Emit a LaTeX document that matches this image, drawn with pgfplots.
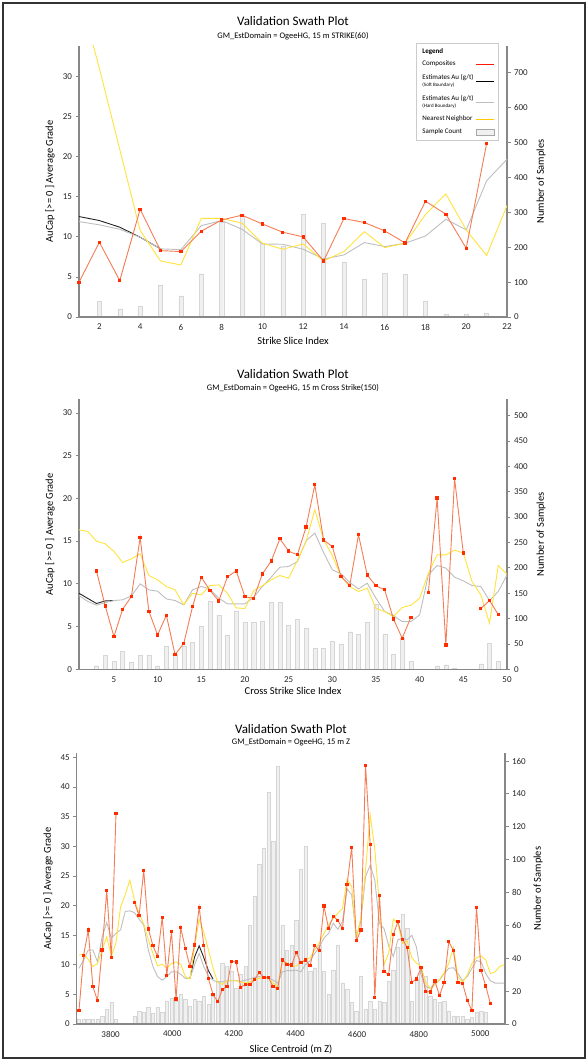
\documentclass[border=0pt]{standalone}
\usepackage{pgfplots}
\usepackage{pgfplotstable}
\pgfplotsset{compat=1.18}
\usepackage{fontspec}
\setmainfont{Carlito}

\definecolor{comp}{RGB}{244,124,86}
\definecolor{compmark}{RGB}{255,45,0}
\definecolor{soft}{RGB}{35,35,35}
\definecolor{hard}{RGB}{190,190,190}
\definecolor{nn}{RGB}{255,226,60}
\definecolor{nnleg}{RGB}{255,200,0}
\definecolor{barfill}{RGB}{240,240,240}
\definecolor{bardraw}{RGB}{214,214,214}
\definecolor{axcol}{RGB}{135,135,135}

\pgfplotstableread{
x comp soft hard nn cnt
1 4.33 12.53 11.9 40.5 nan
2 9.32 12.03 11.49 31.0 44
3 4.54 11.2 10.94 20.9 23
4 13.44 9.95 9.95 10.8 30
5 8.28 8.5 8.5 6.99 90
6 8.16 nan 8.4 6.49 61
7 10.7 nan 11.4 12.3 124
8 12.1 nan 12.03 12.3 272
9 12.7 nan 10.94 11.7 290
10 11.6 nan 9.11 9.2 212
11 10.57 nan 9.07 8.45 202
12 9.99 nan 8.45 9.11 294
13 6.99 nan 7.24 6.99 270
14 12.28 nan 7.74 8.16 158
15 11.78 nan 9.28 10.65 109
16 10.74 nan 8.78 8.66 126
17 9.24 nan 9.2 9.2 122
18 14.44 nan 10.1 12.78 45
19 12.82 nan 12.19 15.36 8
20 8.57 nan 10.86 10.86 8
21 21.64 nan 16.98 7.66 10
22 nan nan 19.68 13.9 nan
}\tblA

\pgfplotstableread{
x comp soft hard nn cnt
1 nan 8.9 8.63 16.33 nan
2 nan 8.3 7.95 16.13 nan
3 11.52 7.7 7.5 15.0 7
4 7.42 8.0 7.8 14.69 28
5 3.83 8.05 8.05 13.79 16
6 7.03 nan 8.13 12.5 35
7 8.52 nan 8.59 12.93 14
8 15.43 nan 10.0 13.52 28
9 6.8 nan 9.3 10.98 28
10 4.02 nan 9.14 10.47 7
11 6.33 nan 8.24 9.69 45
12 1.72 nan 8.05 9.3 30
13 3.05 nan 7.54 7.54 46
14 7.34 nan 9.3 8.9 53
15 10.78 nan 9.69 8.71 84
16 9.22 nan 9.38 9.8 135
17 8.0 nan 8.32 9.88 107
18 10.82 nan 7.66 8.9 68
19 11.52 nan 7.66 7.19 115
20 8.48 nan 7.66 7.11 93
21 8.32 nan 8.44 9.22 92
22 11.17 nan 9.69 9.77 95
23 12.66 nan 10.78 10.47 133
24 15.27 nan 11.95 10.98 133
25 13.83 nan 12.03 10.66 87
26 13.4 nan 12.6 12.73 99
27 16.64 nan 15.04 14.96 81
28 21.6 nan 15.94 18.67 41
29 15.12 nan 13.67 15.16 41
30 14.38 nan 11.64 13.32 55
31 10.86 nan 11.17 10.86 50
32 9.84 nan 10.16 9.69 74
33 15.74 nan 9.41 9.1 70
34 11.02 nan 10.08 9.49 93
35 9.77 nan 8.32 7.11 128
36 9.3 nan 6.76 6.76 70
37 5.9 nan 6.29 6.17 30
38 3.63 nan 5.59 7.23 61
39 6.09 nan 5.59 7.5 16
40 nan nan 6.37 8.32 nan
41 9.02 nan 11.05 11.25 nan
42 20.04 nan 12.15 13.4 7
43 2.85 nan 11.84 13.4 9
44 22.3 nan 10.78 13.95 3
45 13.6 nan 10.35 13.6 nan
46 nan nan 9.8 10.27 nan
47 7.11 nan 9.69 8.71 11
48 8.05 nan 8.05 5.39 51
49 6.41 nan 9.1 12.15 15
50 nan nan 11.05 11.13 nan
}\tblB

\pgfplotstableread{
x comp soft hard nn cnt
3697.5 2.3 nan 9.4 11.6 3
3712.5 11.6 nan 10.8 11.8 3
3727.5 15.86 nan 12.5 10.9 3
3742.5 6.3 nan 12.5 9.7 3
3757.5 3.97 nan 10.5 10.2 3
3772.5 12.5 nan 14.7 12.5 5
3787.5 22.5 nan 17.1 14.7 9
3802.5 11.2 nan 14.5 11.4 13
3817.5 35.5 nan 15.3 13.7 3
3832.5 nan nan 15.9 19.8 nan
3847.5 nan nan 19.0 21.8 nan
3862.5 nan nan 19.1 24.3 nan
3877.5 20.5 nan 18.8 20.9 4.5
3892.5 18.28 nan 17.7 18.7 8
3907.5 25.95 nan 16.7 16.9 7
3922.5 16.05 nan 12.5 14.2 10
3937.5 13.2 nan 9.7 11.9 6.5
3952.5 11.4 nan 8.0 9.8 10
3967.5 18.0 nan 7.4 10.1 7
3982.5 8.2 nan 8.0 9.4 14
3997.5 15.62 nan 8.8 10.2 16
4012.5 4.2 nan 8.8 10.5 14
4027.5 16.25 nan 8.4 10.1 18
4042.5 12.8 nan 7.7 8.0 15
4057.5 9.73 7.7 7.7 7.6 11
4072.5 13.36 11.3 10.0 13.0 15
4087.5 19.72 13.2 11.9 17.7 14
4102.5 13.3 11.2 9.7 15.5 17
4117.5 7.65 9.0 8.0 12.5 12
4132.5 5.0 7.6 7.4 9.5 17
4147.5 3.77 nan 7.1 7.0 26
4162.5 5.8 nan 7.1 6.7 37
4177.5 6.3 nan 7.3 7.3 35
4192.5 10.6 nan 7.3 7.3 32
4207.5 10.45 nan 7.3 7.3 22
4222.5 6.2 nan 7.2 7.1 30
4237.5 6.7 nan 7.4 6.9 35
4252.5 6.7 nan 7.6 7.1 60
4267.5 7.5 nan 7.9 7.5 78
4282.5 8.7 nan 8.0 7.7 97
4297.5 7.8 nan 7.8 8.0 107
4312.5 7.8 nan 7.8 7.7 141
4327.5 6.3 nan 7.4 6.9 111
4342.5 6.0 nan 6.9 6.3 157
4357.5 10.8 nan 8.8 10.7 60
4372.5 10.1 nan 9.0 10.3 45
4387.5 9.96 nan 9.0 9.7 48
4402.5 12.1 nan 9.1 9.8 63
4417.5 10.35 nan 8.8 10.5 94
4432.5 10.8 nan 10.0 10.8 108
4447.5 9.84 nan 10.7 11.2 32
4462.5 13.3 nan 11.9 12.5 34
4477.5 12.37 nan 13.0 13.7 48
4492.5 19.9 nan 14.5 15.3 32
4507.5 16.1 nan 15.3 16.7 18
4522.5 18.2 nan 17.0 17.8 33
4537.5 17.5 nan 16.0 18.7 48
4552.5 16.1 nan 17.3 19.5 25
4567.5 23.6 nan 22.8 24.4 21
4582.5 29.8 nan 21.8 23.2 13
4597.5 14.06 nan 14.7 14.5 8
4612.5 15.86 nan 17.5 18.0 29
4627.5 43.6 nan 24.9 26.0 9
4642.5 30.3 nan 26.8 35.3 14
4657.5 4.44 nan 24.3 29.5 9
4672.5 21.7 nan 17.0 20.0 14
4687.5 8.83 nan 16.1 10.0 13
4702.5 8.38 nan 13.2 12.0 26
4717.5 15.1 nan 11.4 17.7 33
4732.5 17.27 nan 14.2 17.0 47
4747.5 14.3 nan 14.5 13.6 67
4762.5 12.88 nan 14.2 14.0 58
4777.5 7.03 nan 15.0 11.2 14
4792.5 7.59 nan 13.0 10.3 27
4807.5 9.5 nan 8.3 9.7 31
4822.5 5.51 nan 6.3 7.0 29
4837.5 5.4 nan 6.0 6.0 17
4852.5 7.26 nan 6.9 6.6 15
4867.5 4.78 nan 7.4 7.5 13
4882.5 7.03 nan 8.5 8.7 14
4897.5 13.9 nan 9.4 10.2 8
4912.5 12.43 nan 9.5 12.9 5
4927.5 7.03 nan 8.5 8.0 4.5
4942.5 6.86 nan 7.3 7.0 5
4957.5 3.99 nan 8.0 8.3 3
4972.5 2.25 nan 9.4 10.2 4
4987.5 19.7 nan 10.7 11.2 7
5002.5 9.0 nan 10.5 11.5 8
5017.5 6.41 nan 8.5 10.8 7
5032.5 3.49 nan 7.3 8.5 nan
5047.5 nan nan 6.9 8.8 nan
5062.5 nan nan 6.9 9.7 nan
5077.5 nan nan 6.9 10.0 nan
}\tblC

\pgfplotsset{
  base/.style={
    scale only axis, anchor=south west,
    /pgf/number format/assume math mode=true,
    /pgf/number format/1000 sep={},
    tick label style={font=\fontsize{9}{10}\selectfont, text=black!85},
    axis line style={-, axcol, line width=1.3pt},
    tick style={axcol, line width=0.8pt},
    tick align=outside,
    major tick length=3.5pt,
    scaled ticks=false,
    clip=true,
  },
  barax/.style={base, axis y line*=right, axis x line=none, ybar, ymin=0},
  lineax/.style={base, axis y line*=left, axis x line*=bottom, ymin=0,
    unbounded coords=jump, xtick style={draw=none}},
  bars/.style={fill=barfill, draw=bardraw, line width=0.4pt},
  pcomp/.style={color=comp, line width=0.9pt, mark=square*, mark size=1.15pt,
    mark options={fill=compmark, draw=compmark, line width=0pt}},
  psoft/.style={soft, line width=0.9pt, no markers},
  phard/.style={hard, line width=0.9pt, no markers},
  pnn/.style={nn, line width=0.9pt, no markers},
}

\begin{document}
\begin{tikzpicture}[x=1pt,y=1pt]
\useasboundingbox (0,0) rectangle (588,1061);
\draw[line width=1.5pt, black!80] (3,3) rectangle (585,1058);

% ---------------- Panel 1 ----------------
\begin{axis}[barax, at={(79pt,744pt)}, width=428pt, height=271pt,
  xmin=1, xmax=22, ymax=777, ytick={0,100,...,700}, bar width=0.2]
\addplot[bars] table[x=x,y=cnt]{\tblA};
\end{axis}
\begin{axis}[lineax, at={(79pt,744pt)}, width=428pt, height=271pt,
  xmin=1, xmax=22, ymax=33.8, ytick={0,5,...,30}, xtick={2,4,...,22},
  legend style={at={(0.981,1.011)}, anchor=north east, draw=black!20, fill=white,
    font=\fontsize{7}{8}\selectfont, cells={anchor=west}, row sep=2.5pt,
    inner xsep=4pt, inner ysep=3pt},
  legend plot pos=right]
\addplot[psoft, forget plot] table[x=x,y=soft]{\tblA};
\addplot[phard, forget plot] table[x=x,y=hard]{\tblA};
\addplot[pnn, forget plot] table[x=x,y=nn]{\tblA};
\addplot[pcomp, forget plot] table[x=x,y=comp]{\tblA};
\addlegendimage{empty legend}
\addlegendentry{\textbf{Legend}}
\addlegendimage{legend image code/.code={\draw[red!80!orange, line width=1pt] (0pt,0pt) -- (18pt,0pt);}}
\addlegendentry{Composites}
\addlegendimage{legend image code/.code={\draw[black, line width=1pt] (0pt,0pt) -- (18pt,0pt);}}
\addlegendentry{\shortstack[l]{Estimates Au (g/t)\\{\fontsize{5}{6}\selectfont (Soft Boundary)}}}
\addlegendimage{legend image code/.code={\draw[hard, line width=1pt] (0pt,0pt) -- (18pt,0pt);}}
\addlegendentry{\shortstack[l]{Estimates Au (g/t)\\{\fontsize{5}{6}\selectfont (Hard Boundary)}}}
\addlegendimage{legend image code/.code={\draw[nnleg, line width=1.1pt] (0pt,0pt) -- (18pt,0pt);}}
\addlegendentry{Nearest Neighbor}
\addlegendimage{legend image code/.code={\draw[fill=barfill, draw=gray!70] (0pt,-3pt) rectangle (18pt,3pt);}}
\addlegendentry{Sample Count}
\end{axis}
\node[font=\fontsize{13}{15}\selectfont] at (293,1040) {Validation Swath Plot};
\node[font=\fontsize{8.5}{10}\selectfont] at (293,1025) {GM\_EstDomain = OgeeHG, 15 m STRIKE(60)};
\node[font=\fontsize{10.5}{12}\selectfont] at (293,720) {Strike Slice Index};
\node[rotate=90, font=\fontsize{10.5}{12}\selectfont] at (50,879.5) {AuCap [>= 0 ] Average Grade};
\node[rotate=90, font=\fontsize{10.5}{12}\selectfont] at (541,879.5) {Number of Samples};

% ---------------- Panel 2 ----------------
\begin{axis}[barax, at={(79pt,391.7pt)}, width=428pt, height=270pt,
  xmin=1, xmax=50, ymax=532, ytick={0,50,...,500}, bar width=0.46]
\addplot[bars] table[x=x,y=cnt]{\tblB};
\end{axis}
\begin{axis}[lineax, at={(79pt,391.7pt)}, width=428pt, height=270pt,
  xmin=1, xmax=50, ymax=31.6, ytick={0,5,...,30}, xtick={5,10,...,50}]
\addplot[psoft] table[x=x,y=soft]{\tblB};
\addplot[phard] table[x=x,y=hard]{\tblB};
\addplot[pnn] table[x=x,y=nn]{\tblB};
\addplot[pcomp] table[x=x,y=comp]{\tblB};
\end{axis}
\node[font=\fontsize{13}{15}\selectfont] at (293,687) {Validation Swath Plot};
\node[font=\fontsize{8.5}{10}\selectfont] at (293,673.3) {GM\_EstDomain = OgeeHG, 15 m Cross Strike(150)};
\node[font=\fontsize{10.5}{12}\selectfont] at (293,370) {Cross Strike Slice Index};
\node[rotate=90, font=\fontsize{10.5}{12}\selectfont] at (50,526.7) {AuCap [>= 0 ] Average Grade};
\node[rotate=90, font=\fontsize{10.5}{12}\selectfont] at (541,526.7) {Number of Samples};

% ---------------- Panel 3 ----------------
\begin{axis}[barax, at={(76.7pt,37pt)}, width=428.3pt, height=270.7pt,
  xmin=3690, xmax=5080, ymax=164.7, ytick={0,20,...,160}, bar width=10.7]
\addplot[bars] table[x=x,y=cnt]{\tblC};
\end{axis}
\begin{axis}[lineax, at={(76.7pt,37pt)}, width=428.3pt, height=270.7pt,
  xmin=3690, xmax=5080, ymax=45.7, ytick={0,5,...,45}, xtick={3800,4000,...,5000}]
\addplot[psoft] table[x=x,y=soft]{\tblC};
\addplot[phard] table[x=x,y=hard]{\tblC};
\addplot[pnn] table[x=x,y=nn]{\tblC};
\addplot[pcomp] table[x=x,y=comp]{\tblC};
\end{axis}
\node[font=\fontsize{13}{15}\selectfont] at (291,331.7) {Validation Swath Plot};
\node[font=\fontsize{8.5}{10}\selectfont] at (291,318.3) {GM\_EstDomain = OgeeHG, 15 m Z};
\node[font=\fontsize{10.5}{12}\selectfont] at (291,12) {Slice Centroid (m Z)};
\node[rotate=90, font=\fontsize{10.5}{12}\selectfont] at (48,172.3) {AuCap [>= 0 ] Average Grade};
\node[rotate=90, font=\fontsize{10.5}{12}\selectfont] at (538,172.3) {Number of Samples};
\end{tikzpicture}
\end{document}
